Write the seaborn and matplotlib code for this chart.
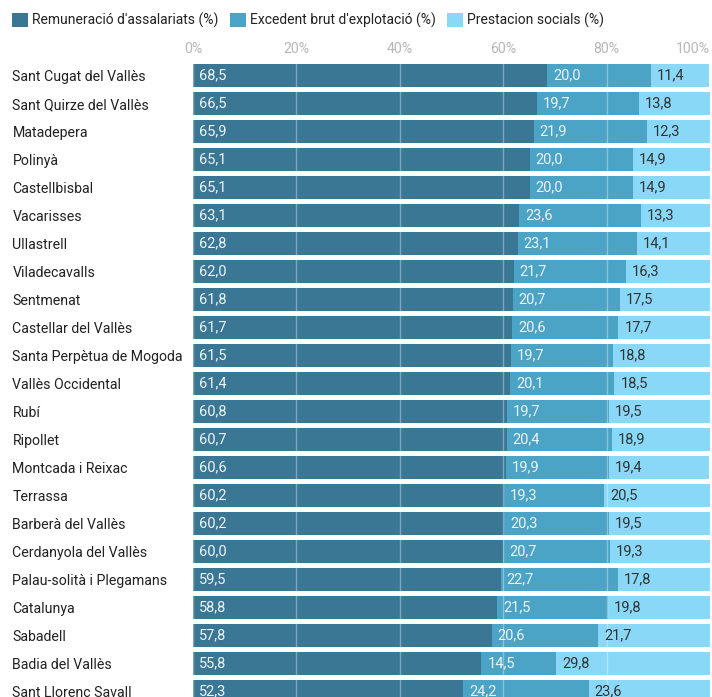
import matplotlib.pyplot as plt
import seaborn as sns
import pandas as pd
from matplotlib.patches import Patch

# data
municipis = [
    'Sant Cugat del Vallès', 'Sant Quirze del Vallès', 'Matadepera', 'Polinyà',
    'Castellbisbal', 'Vacarisses', 'Ullastrell', 'Viladecavalls', 'Sentmenat',
    'Castellar del Vallès', 'Santa Perpètua de Mogoda', 'Vallès Occidental',
    'Rubí', 'Ripollet', 'Montcada i Reixac', 'Terrassa', 'Barberà del Vallès',
    'Cerdanyola del Vallès', 'Palau-solità i Plegamans', 'Catalunya',
    'Sabadell', 'Badia del Vallès', 'Sant Llorenç Savall',
]
remuneracio = [68.5, 66.5, 65.9, 65.1, 65.1, 63.1, 62.8, 62.0, 61.8, 61.7, 61.5, 61.4,
               60.8, 60.7, 60.6, 60.2, 60.2, 60.0, 59.5, 58.8, 57.8, 55.8, 52.3]
excedent = [20.0, 19.7, 21.9, 20.0, 20.0, 23.6, 23.1, 21.7, 20.7, 20.6, 19.7, 20.1,
            19.7, 20.4, 19.9, 19.3, 20.3, 20.7, 22.7, 21.5, 20.6, 14.5, 24.2]
prestacions = [11.4, 13.8, 12.3, 14.9, 14.9, 13.3, 14.1, 16.3, 17.5, 17.7, 18.8, 18.5,
               19.5, 18.9, 19.4, 20.5, 19.5, 19.3, 17.8, 19.8, 21.7, 29.8, 23.6]
series = ["Remuneració d'assalariats (%)", "Excedent brut d'explotació (%)",
          "Prestacion socials (%)"]
ticks = [0, 20, 40, 60, 80, 100]

colors = ['#3a7794', '#4ba3c6', '#8ad8f7']

df = pd.DataFrame({'municipi': municipis, 'rem': remuneracio,
                   'exc': excedent, 'pre': prestacions})
df['c1'] = df['rem']
df['c2'] = df['rem'] + df['exc']
df['c3'] = df['c2'] + df['pre']

sns.set_theme(style='white')
plt.rcParams['font.family'] = ['Roboto', 'DejaVu Sans']

W, H = 712, 697
fig = plt.figure(figsize=(W / 100, H / 100), dpi=100)
row_px = 28
n = len(municipis)
top_px = 61.5
ax_h = n * row_px
ax = fig.add_axes([193 / W, (H - top_px - ax_h) / H, (710 - 193) / W, ax_h / H])

bw = 23 / 28
for col, c in zip(['c3', 'c2', 'c1'], colors[::-1]):
    sns.barplot(data=df, x=col, y='municipi', color=c, width=bw,
                saturation=1, linewidth=0, ax=ax)

ax.set_xlim(0, 100)
ax.set_ylim(n - 0.5, -0.5)
ax.set_xlabel('')
ax.set_ylabel('')
for s in ax.spines.values():
    s.set_visible(False)

fs = 10.2

# value labels at the start of every segment
for i in range(n):
    starts = [0, df['c1'][i], df['c2'][i]]
    vals = [df['rem'][i], df['exc'][i], df['pre'][i]]
    tcols = ['#eef4f7', '#eef4f7', '#333333']
    for s0, v, tc in zip(starts, vals, tcols):
        ax.annotate(f'{v:.1f}'.replace('.', ','), (s0, i), xytext=(4.3, 0),
                    textcoords='offset points', ha='left', va='center',
                    fontsize=10.5, color=tc, zorder=4)

# axis ticks on top
ax.xaxis.tick_top()
ax.set_xticks(ticks)
ax.set_xticklabels([f'{t}%' for t in ticks])
ax.tick_params(axis='x', length=0, pad=4, labelsize=fs, labelcolor='#b8b8b8')
ax.get_xticklabels()[-1].set_ha('right')
ax.xaxis.grid(True, color='white', alpha=0.35, linewidth=1)
ax.yaxis.grid(False)
ax.set_axisbelow(False)

ax.tick_params(axis='y', length=0, pad=130, labelsize=fs, labelcolor='#222222')
for lab in ax.get_yticklabels():
    lab.set_ha('left')

handles = [Patch(facecolor=c, edgecolor='none') for c in colors]
fig.legend(handles, series, loc='upper left', bbox_to_anchor=(12 / W, 1 - 13 / H),
           ncol=3, frameon=False, fontsize=10, handlelength=1.15,
           handleheight=1.15, handletextpad=0.3, columnspacing=0.8,
           labelcolor='#222222', borderaxespad=0, borderpad=0)

fig.savefig('out.png', dpi=100)
